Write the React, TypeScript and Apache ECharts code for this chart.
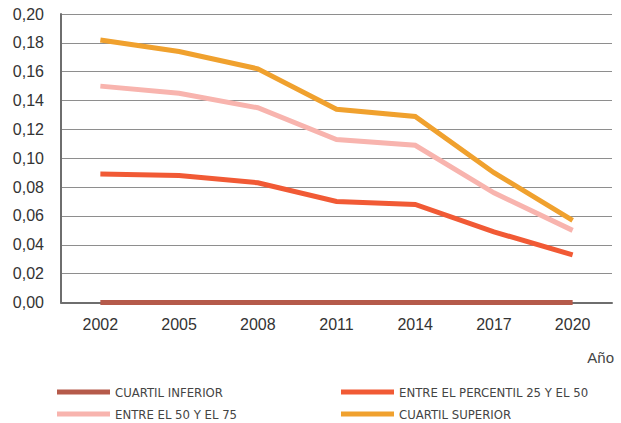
import React, { useEffect, useRef } from "react";
import * as echarts from "echarts";

const years = ["2002", "2005", "2008", "2011", "2014", "2017", "2020"];
const cuartilInferior = [0, 0, 0, 0, 0, 0, 0];
const percentil25y50 = [0.089, 0.088, 0.083, 0.07, 0.068, 0.049, 0.033];
const entre50y75 = [0.15, 0.145, 0.135, 0.113, 0.109, 0.076, 0.05];
const cuartilSuperior = [0.182, 0.174, 0.162, 0.134, 0.129, 0.09, 0.057];

const seriesNames = [
  "CUARTIL INFERIOR",
  "ENTRE EL PERCENTIL 25 Y EL 50",
  "ENTRE EL 50 Y EL 75",
  "CUARTIL SUPERIOR",
];
const colors = ["#b55a4a", "#f15a35", "#f8b4ae", "#f0a12e"];

const legendPos = [
  { left: 57, top: 384 },
  { left: 341, top: 384 },
  { left: 57, top: 406 },
  { left: 341, top: 406 },
];

export default function App() {
  const ref = useRef<HTMLDivElement>(null);
  useEffect(() => {
    if (!ref.current) return;
    const chart = echarts.init(ref.current, null, { renderer: "svg" });
    const values = [cuartilInferior, percentil25y50, entre50y75, cuartilSuperior];
    const legendText = {
      fontFamily: "'DejaVu Sans Condensed', 'Liberation Sans', sans-serif",
      fontSize: 13,
      color: "#444",
      lineHeight: 16,
    };
    chart.setOption({
      animation: false,
      color: colors,
      textStyle: { fontFamily: "Liberation Sans" },
      grid: { left: 61, right: 9, top: 14, bottom: 120.5, containLabel: false },
      legend: seriesNames.map((name, i) => ({
        left: legendPos[i].left,
        top: legendPos[i].top,
        padding: 0,
        itemWidth: 53,
        itemHeight: 5,
        itemTextGap: 7,
        icon: "rect",
        textStyle: legendText,
        data: [name],
      })),
      xAxis: {
        type: "category",
        data: years,
        boundaryGap: true,
        axisLine: { lineStyle: { color: "#6e6e6e", width: 2 } },
        axisTick: { inside: true, length: 5, lineStyle: { color: "#6e6e6e", width: 1 } },
        axisLabel: {
          margin: 14,
          fontSize: 16,
          color: "#333",
          fontFamily: "Liberation Sans",
        },
      },
      yAxis: {
        type: "value",
        min: 0,
        max: 0.2,
        interval: 0.02,
        axisLine: { show: true, lineStyle: { color: "#6e6e6e", width: 2 } },
        axisTick: { show: false },
        splitLine: { lineStyle: { color: "#8e8e8e", width: 1.2 } },
        axisLabel: {
          margin: 17,
          fontSize: 16,
          color: "#333",
          fontFamily: "Liberation Sans",
          formatter: (v: number) => v.toFixed(2).replace(".", ","),
        },
      },
      graphic: [
        {
          type: "text",
          right: 7,
          top: 350,
          style: {
            text: "Año",
            fontSize: 15,
            fill: "#444",
            fontFamily: "Liberation Sans",
          },
        },
      ],
      series: seriesNames.map((name, i) => ({
        name,
        type: "line",
        data: values[i],
        symbol: "none",
        lineStyle: { width: 5, color: colors[i], cap: "butt", join: "miter" },
        itemStyle: { color: colors[i] },
        z: i === 0 ? 3 : 2,
      })),
    });
    return () => chart.dispose();
  }, []);
  return (
    <div
      ref={ref}
      style={{ position: "fixed", left: 0, top: 0, width: 621, height: 423, background: "#fff" }}
    />
  );
}
